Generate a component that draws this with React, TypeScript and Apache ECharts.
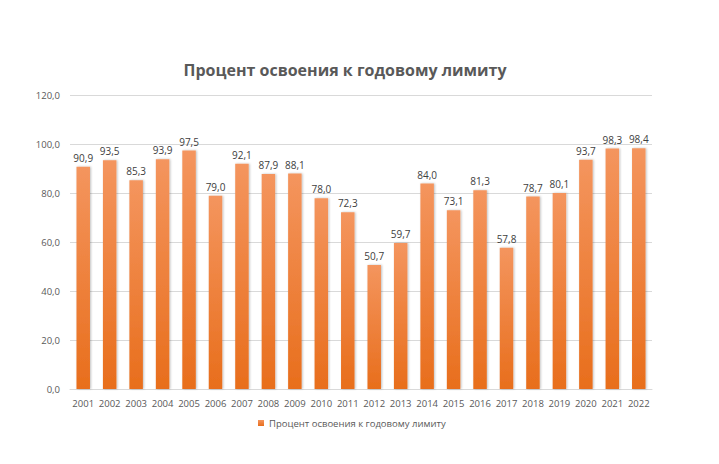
import React, { useEffect, useRef } from "react";
import * as echarts from "echarts";

const categories = ["2001","2002","2003","2004","2005","2006","2007","2008","2009","2010","2011","2012","2013","2014","2015","2016","2017","2018","2019","2020","2021","2022"];
const values = [90.9,93.5,85.3,93.9,97.5,79.0,92.1,87.9,88.1,78.0,72.3,50.7,59.7,84.0,73.1,81.3,57.8,78.7,80.1,93.7,98.3,98.4];
const seriesName = "Процент освоения к годовому лимиту";
const titleText = "Процент освоения к годовому лимиту";

const fmt = (v: number) => v.toFixed(1).replace(".", ",");

export default function App() {
  const ref = useRef<HTMLDivElement>(null);
  useEffect(() => {
    if (!ref.current) return;
    const chart = echarts.init(ref.current, null, { renderer: "svg" });
    const font = "'Open Sans', 'Noto Sans', sans-serif";
    chart.setOption({
      animation: false,
      backgroundColor: "#ffffff",
      textStyle: { fontFamily: font },
      graphic: [
        {
          type: "text",
          x: 345,
          y: 70,
          style: {
            text: titleText,
            fontFamily: font,
            fontSize: 16,
            fontWeight: "bold",
            fill: "#595959",
            textAlign: "center",
            textVerticalAlign: "middle",
          },
        },
      ],
      legend: {
        left: 253,
        top: 413,
        itemWidth: 6,
        itemHeight: 6,
        itemGap: 4,
        icon: "rect",
        textStyle: { color: "#595959", fontSize: 9.5, fontFamily: font },
        data: [seriesName],
      },
      grid: { left: 70, right: 67, top: 95.5, bottom: 75, containLabel: false },
      xAxis: {
        type: "category",
        data: categories,
        axisTick: { show: false },
        axisLine: { lineStyle: { color: "#d9d9d9", width: 1 } },
        axisLabel: { color: "#595959", fontSize: 9.5, margin: 9, interval: 0, fontFamily: font },
      },
      yAxis: {
        type: "value",
        min: 0,
        max: 120,
        interval: 20,
        axisLine: { show: false },
        axisTick: { show: false },
        splitLine: { lineStyle: { color: "#d9d9d9", width: 1 } },
        axisLabel: {
          color: "#595959",
          fontSize: 9.5,
          margin: 10,
          fontFamily: font,
          formatter: (v: number) => fmt(v),
        },
      },
      series: [
        {
          name: seriesName,
          type: "bar",
          data: values,
          barWidth: "51%",
          itemStyle: {
            color: new echarts.graphic.LinearGradient(0, 0, 0, 1, [
              { offset: 0, color: "#F4955E" },
              { offset: 1, color: "#E86E1C" },
            ]),
            shadowColor: "rgba(0,0,0,0.25)",
            shadowBlur: 2,
            shadowOffsetX: 1,
            shadowOffsetY: 0,
          },
          label: {
            show: true,
            position: "top",
            distance: 4,
            color: "#404040",
            fontSize: 10,
            fontFamily: font,
            formatter: (p: any) => fmt(p.value),
          },
        },
      ],
    });
    return () => chart.dispose();
  }, []);
  return (
    <div
      ref={ref}
      style={{ position: "fixed", left: 0, top: 0, width: 719, height: 464 }}
    />
  );
}
